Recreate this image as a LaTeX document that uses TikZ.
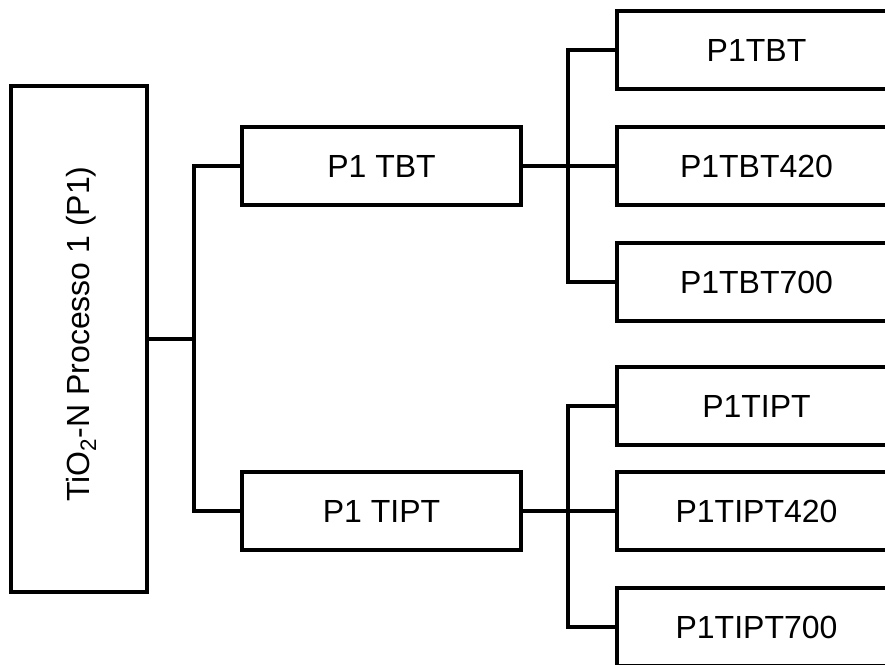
\documentclass[tikz,border=0pt]{standalone}
\usepackage{fontspec}
\setmainfont{Liberation Sans}
\begin{document}
\begin{tikzpicture}[x=1pt,y=-1pt,
  box/.style={draw=black, line width=3.5pt, fill=white, rectangle, inner sep=0pt,
    minimum width=279pt, minimum height=78pt,
    font=\fontsize{32}{38}\selectfont},
  link/.style={draw=black, line width=3.5pt}]
  \useasboundingbox (0,0) rectangle (885,664);
  \clip (0,0) rectangle (885,664);

  % root of the tree
  \node[box, minimum width=136pt, minimum height=506pt] (root) at (79,339) {};
  \node[font=\fontsize{32}{38}\selectfont, rotate=90, inner sep=0pt] (rootlabel)
    at (81,334) {TiO\textsubscript{2}-N Processo 1 (P1)};

  % precursor branches
  \node[box] (tbt)  at (381.5,166) {P1 TBT};
  \node[box] (tipt) at (381.5,511) {P1 TIPT};

  % samples by treatment temperature
  \node[box] (tbtA)  at (756.5,50)  {P1TBT};
  \node[box] (tbtB)  at (756.5,166) {P1TBT420};
  \node[box] (tbtC)  at (756.5,282) {P1TBT700};
  \node[box] (tiptA) at (756.5,406) {P1TIPT};
  \node[box] (tiptB) at (756.5,511) {P1TIPT420};
  \node[box] (tiptC) at (756.5,627) {P1TIPT700};

  % bus junctions
  \coordinate (busR) at (194,339);
  \coordinate (busT) at (568,166);
  \coordinate (busP) at (568,511);

  \draw[link] (root.east) -- (busR);
  \draw[link] (tbt.west) -| (busR);
  \draw[link] (tipt.west) -| (busR);

  \draw[link] (tbt.east) -- (tbtB.west);
  \draw[link] (tbtA.west) -| (busT);
  \draw[link] (tbtC.west) -| (busT);

  \draw[link] (tipt.east) -- (tiptB.west);
  \draw[link] (tiptA.west) -| (busP);
  \draw[link] (tiptC.west) -| (busP);
\end{tikzpicture}
\end{document}
